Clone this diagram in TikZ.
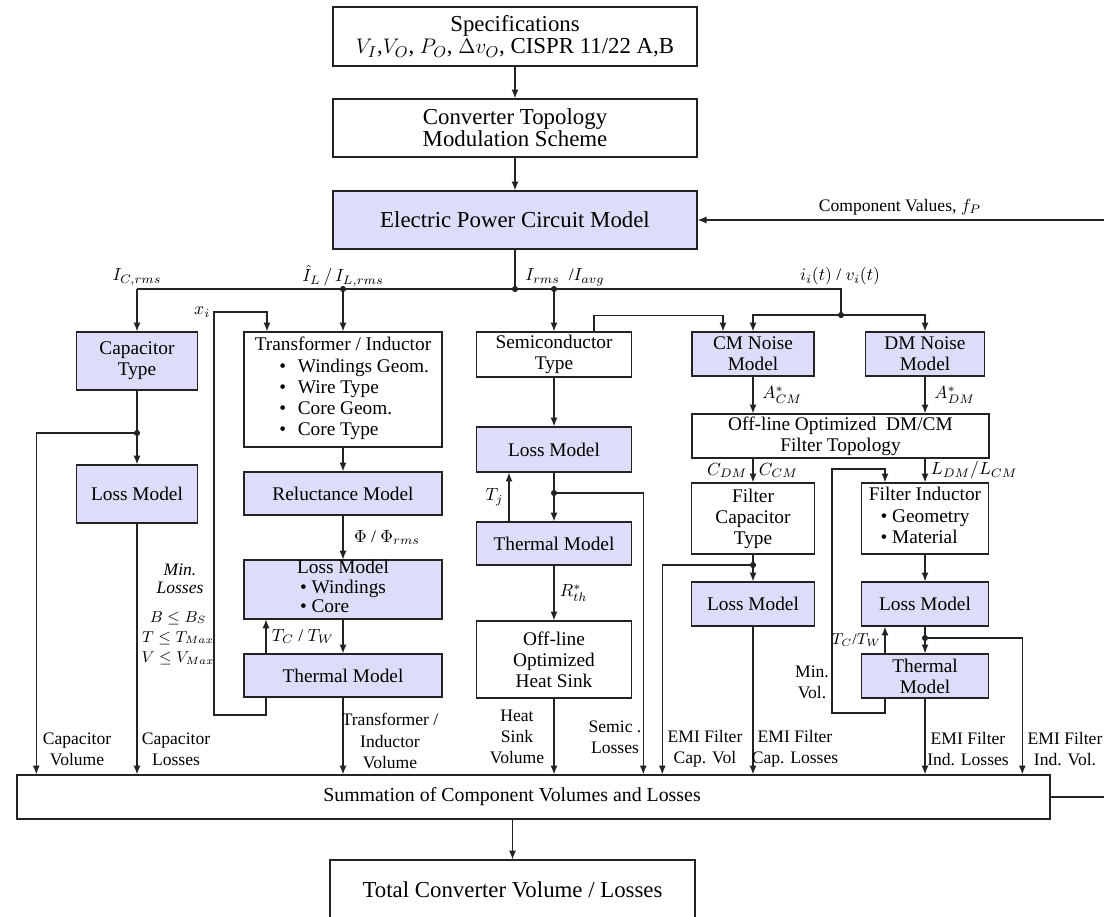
\documentclass[tikz,border=0pt]{standalone}
\usepackage{amsmath,amssymb}
\usepackage{fontspec}
\setmainfont{Liberation Serif}
\usetikzlibrary{positioning,calc,arrows.meta}

\definecolor{modelblue}{RGB}{221,221,250}
\definecolor{linegray}{RGB}{35,35,35}

\begin{document}
\begin{tikzpicture}[
    x=0.02cm, y=-0.02cm,
    block/.style={draw=linegray, line width=0.8pt, align=center, inner sep=1pt, font=\fontsize{11}{12}\selectfont},
    model/.style={block, fill=modelblue},
    topfont/.style={font=\fontsize{13}{12.5}\selectfont},
    boxsize/.style 2 args={minimum width=#1*0.02cm, minimum height=#2*0.02cm},
    flow/.style={line width=0.6pt, draw=linegray, -{Latex[length=5pt,width=4pt]}},
    wire/.style={line width=0.6pt, draw=linegray},
    lbl/.style={font=\fontsize{10}{12}\selectfont, align=center, inner sep=1pt},
    junction/.style={circle, fill=linegray, inner sep=0pt, minimum size=3.5pt}
]
    \useasboundingbox (0,0) rectangle (1104,916);

    % Top chain
    \node[block, topfont, boxsize={364}{59}] (spec) at (515,36.5) {Specifications\\ $V_I$,$V_O$, $P_O$, $\Delta v_O$, CISPR 11/22 A,B};
    \node[block, topfont, boxsize={364}{58}] (topo) at (515,128) {Converter Topology\\ Modulation Scheme};
    \node[model, topfont, boxsize={364}{58}] (epcm) at (515,220) {Electric Power Circuit Model};

    % Capacitor column
    \node[model, boxsize={121}{58}] (captype) at (137,361) {Capacitor\\ Type};
    \node[model, boxsize={121}{58}] (caploss) at (137,494) {Loss Model};

    % Transformer / inductor column
    \node[block, boxsize={198}{115}] (trafo) at (343,389.5) {Transformer / Inductor\\
        \hspace*{0.45cm}\begin{tabular}[t]{@{}l@{}}\textbullet\hspace{0.6em}Windings Geom.\\ \textbullet\hspace{0.6em}Wire Type\\ \textbullet\hspace{0.6em}Core Geom.\\ \textbullet\hspace{0.6em}Core Type\end{tabular}};
    \node[model, boxsize={198}{55}, inner ysep=0pt, font=\fontsize{11}{11.2}\selectfont] (trloss) at (343,589.5) {Loss Model\\
        \begin{tabular}[t]{@{}l@{}}\textbullet\ Windings\\ \textbullet\ Core\end{tabular}};
    \node[model, boxsize={198}{43}] (reluct) at (343,493.5) {Reluctance Model};
    \node[model, boxsize={198}{43}] (trtherm) at (343,675.5) {Thermal Model};

    % Semiconductor column
    \node[block, boxsize={155}{45}] (semi) at (554,354.5) {Semiconductor\\ Type};
    \node[model, boxsize={155}{45}] (semiloss) at (554,449.5) {Loss Model};
    \node[model, boxsize={155}{43}] (semitherm) at (554,543.5) {Thermal Model};
    \node[block, boxsize={155}{77}] (heatsink) at (554,659.5) {Off-line\\ Optimized\\ Heat Sink};

    % EMI filter columns
    \node[model, boxsize={122}{44}] (cm) at (753,354) {CM Noise\\ Model};
    \node[model, boxsize={119}{44}] (dm) at (925,354) {DM Noise\\ Model};
    \node[block, boxsize={297}{44}] (filtopo) at (840.5,436) {Off-line Optimized\ \ DM/CM\\ Filter Topology};
    \node[block, boxsize={123}{71}] (fcap) at (753,518.5) {Filter\\ Capacitor\\ Type};
    \node[block, boxsize={127}{71}] (find) at (925,518.5) {Filter Inductor\\
        \begin{tabular}[t]{@{}l@{}}\textbullet\ Geometry\\ \textbullet\ Material\end{tabular}};
    \node[model, boxsize={123}{44}] (fcaploss) at (753,604) {Loss Model};
    \node[model, boxsize={127}{44}] (findloss) at (925,604) {Loss Model};
    \node[model, boxsize={127}{44}] (findtherm) at (925,676) {Thermal\\ Model};

    % Bottom
    \node[block, boxsize={1033}{44}, font=\fontsize{11.3}{12}\selectfont] (sum) at (533.5,797) {Summation of Component Volumes and Losses\hspace*{0.86cm}};
    \node[block, topfont, boxsize={365}{60}] (total) at (512.5,890) {Total Converter Volume / Losses};

    % Junctions and corners
    \node[junction] (jmain) at (515,289) {};
    \node[junction] (jl) at (343,289) {};
    \node[junction] (jrms) at (554,289) {};
    \node[junction] (jcm) at (841,315) {};
    \node[junction] (jcap) at (137,433) {};
    \node[junction] (jsemi) at (554,493) {};
    \node[junction] (jfcap) at (753,565) {};
    \node[junction] (jfind) at (925,638) {};
    \coordinate (busl) at (137,289);
    \coordinate (busr) at (841,289);
    \coordinate (xib) at (214,715);
    \coordinate (xit) at (214,312);
    \coordinate (mvb) at (832,713);
    \coordinate (mvt) at (832,469);

    % Top connectors
    \draw[flow] (spec) -- (topo);
    \draw[flow] (topo) -- (epcm);
    \draw[wire] (epcm) -- (jmain);
    \draw[wire] (busl) -- (busr) -- (jcm);
    \draw[flow] (busl) -- (captype);
    \draw[flow] (jl) -- (trafo);
    \draw[flow] (jrms) -- (semi);
    \draw[flow] (jcm) -| (cm);
    \draw[flow] (jcm) -| (dm);
    \draw[flow] ($(semi.north)+(40,0)$) |- ($(cm.north)+(-30,-16)$) -- ($(cm.north)+(-30,0)$);

    % Bus labels
    \node[lbl] (lic) at (137,277) {$I_{C,rms}$};
    \node[lbl] (lil) at (343,276) {$\hat{I}_L\,/\,I_{L,rms}$};
    \node[lbl] (lirms) at (565,277) {$I_{rms}$\ \ /$I_{avg}$};
    \node[lbl] (liv) at (840,276) {$i_i(t)$ / $v_i(t)$};

    % Capacitor path
    \draw[wire] (captype) -- (jcap);
    \draw[flow] (jcap) -- (caploss);
    \draw[flow] (jcap) -| ($(sum.north west)+(20,0)$);
    \draw[flow] (caploss) -- (caploss.south |- sum.north);
    \node[lbl] (lcapvol) at (77,749) {Capacitor\\ Volume};
    \node[lbl] (lcaploss) at (176,749) {Capacitor\\ Losses};
    \node[lbl, font=\fontsize{10}{10.5}\selectfont\itshape] (lminloss) at (180,579) {Min.\\ Losses};
    \node[lbl, font=\fontsize{9}{11.5}\selectfont] (lcons) at (178,638) {$B \le B_S$\\ $T \le T_{Max}$\\ $V \le V_{Max}$};

    % Transformer path
    \draw[flow] (trafo) -- (reluct);
    \draw[flow] (reluct) -- (trloss) node[lbl, midway, right=5pt] (lphi) {$\Phi$ / $\Phi_{rms}$};
    \draw[flow] (trloss) -- (trtherm);
    \draw[flow] ($(trtherm.north)+(-77,0)$) -- ($(trloss.south)+(-77,0)$) node[lbl, midway, right=2pt] (ltctw) {$T_C$ / $T_W$};
    \draw[flow] ($(trtherm.south)+(-77,0)$) |- (xib) -- (xit) -| ($(trafo.north)+(-76,0)$);
    \node[lbl, left=1pt] (lxi) at (xit) {$x_i$};
    \draw[flow] (trtherm) -- (trtherm.south |- sum.north);
    \node[lbl] (ltrvol) at (390,741) {Transformer /\\ Inductor\\ Volume};

    % Semiconductor path
    \draw[flow] (semi) -- (semiloss);
    \draw[wire] (semiloss) -- (jsemi);
    \draw[flow] (jsemi) -- (semitherm);
    \draw[flow] (jsemi) -| ($(sum.north west)+(627,0)$);
    \draw[flow] ($(semitherm.north)+(-45,0)$) -- ($(semiloss.south)+(-45,0)$) node[lbl, midway, left=2pt] (ltj) {$T_j$};
    \draw[flow] (semitherm) -- (heatsink) node[lbl, midway, right=2pt] (lrth) {$R^*_{th}$};
    \draw[flow] (heatsink) -- (heatsink.south |- sum.north);
    \node[lbl] (lhsvol) at (517,737) {Heat\\ Sink\\ Volume};
    \node[lbl] (lsemloss) at (615,737) {Semic .\\ Losses};

    % EMI filter paths
    \draw[flow] (cm) -- (filtopo.north -| cm) node[lbl, midway, right=4pt] (lacm) {$A^*_{CM}$};
    \draw[flow] (dm) -- (filtopo.north -| dm) node[lbl, midway, right=4pt] (ladm) {$A^*_{DM}$};
    \draw[flow] (filtopo.south -| fcap) -- (fcap) node[lbl, midway, left=2pt] (lcdm) {$C_{DM}$} node[lbl, midway, right=2pt] (lccm) {$C_{CM}$};
    \draw[flow] (filtopo.south -| find) -- (find) node[lbl, midway, right=2pt] (lldm) {$L_{DM}/L_{CM}$};
    \draw[wire] (fcap) -- (jfcap);
    \draw[flow] (jfcap) -- (fcaploss);
    \draw[flow] (jfcap) -| ($(sum.north west)+(646,0)$);
    \draw[flow] (fcaploss) -- (fcaploss.south |- sum.north);
    \draw[flow] (find) -- (findloss);
    \draw[wire] (findloss) -- (jfind);
    \draw[flow] (jfind) -- (findtherm);
    \draw[flow] (jfind) -| ($(sum.north west)+(1006,0)$);
    \draw[flow] (findtherm) -- (findtherm.south |- sum.north);
    \draw[flow] ($(findtherm.north)+(-40,0)$) -- ($(findloss.south)+(-40,0)$) node[lbl, midway, left=1pt, font=\fontsize{9}{11}\selectfont] (lftc) {$T_C$/$T_W$};
    \draw[flow] ($(findtherm.south)+(-40,0)$) |- (mvb) -- (mvt) -| ($(find.north)+(-40,0)$);
    \node[lbl] (lminvol) at (812,682) {Min.\\ Vol.};
    \node[lbl] (lcvol) at (705,749) {EMI Filter\\ Cap. Vol};
    \node[lbl] (lcloss) at (795,749) {EMI Filter\\ Cap. Losses};
    \node[lbl] (liloss) at (968,749) {EMI Filter\\ Ind. Losses};
    \node[lbl] (livol) at (1065,749) {EMI Filter\\ Ind. Vol.};

    % Result and feedback
    \draw[flow] (sum.south -| total) -- (total);
    \draw[flow] (sum.east) -- ++(70,0) |- (epcm.east);
    \node[lbl] (lcv) at (900,207) {Component Values, $f_P$};

\end{tikzpicture}
\end{document}
